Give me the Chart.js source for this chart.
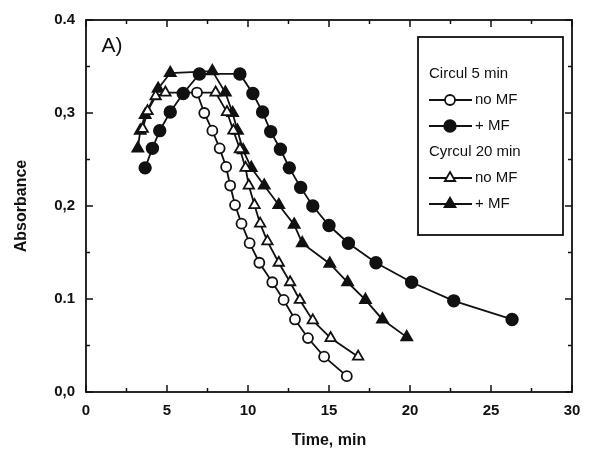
<!DOCTYPE html>
<html>
<head>
<meta charset="utf-8">
<script src="https://cdn.jsdelivr.net/npm/chart.js@4/dist/chart.umd.min.js"></script>
<style>
  html, body { margin: 0; padding: 0; background: #fff; }
  #wrap { width: 605px; height: 460px; }
</style>
</head>
<body>
<div id="wrap"><canvas id="chart" width="605" height="460"></canvas></div>
<script>
// Circul 5 min, no MF (open circles)
const c5NoX = [6.85, 7.3, 7.8, 8.25, 8.65, 8.9, 9.2, 9.6, 10.1, 10.7, 11.5, 12.2, 12.9, 13.7, 14.7, 16.1];
const c5NoY = [0.322, 0.300, 0.281, 0.262, 0.242, 0.222, 0.201, 0.181, 0.160, 0.139, 0.118, 0.099, 0.078, 0.058, 0.038, 0.017];

// Circul 5 min, + MF (filled circles)
const c5MfX = [3.65, 4.1, 4.55, 5.2, 6.0, 7.0, 9.5, 10.3, 10.9, 11.4, 12.0, 12.55, 13.25, 14.0, 15.0, 16.2, 17.9, 20.1, 22.7, 26.3];
const c5MfY = [0.241, 0.262, 0.281, 0.301, 0.321, 0.342, 0.342, 0.321, 0.301, 0.280, 0.261, 0.241, 0.220, 0.200, 0.179, 0.160, 0.139, 0.118, 0.098, 0.078];

// Cyrcul 20 min, no MF (open triangles)
const c20NoX = [3.5, 3.8, 4.3, 4.9, 8.0, 8.7, 9.1, 9.5, 9.85, 10.05, 10.4, 10.75, 11.2, 11.9, 12.6, 13.2, 14.0, 15.1, 16.8];
const c20NoY = [0.283, 0.302, 0.318, 0.322, 0.322, 0.301, 0.281, 0.261, 0.241, 0.222, 0.201, 0.181, 0.162, 0.139, 0.118, 0.099, 0.077, 0.058, 0.038];

// Cyrcul 20 min, + MF (filled triangles)
const c20MfX = [3.2, 3.35, 3.65, 4.45, 5.2, 7.8, 8.6, 9.05, 9.35, 9.7, 10.2, 11.0, 11.9, 12.85, 13.35, 15.05, 16.15, 17.25, 18.3, 19.8];
const c20MfY = [0.262, 0.281, 0.298, 0.326, 0.343, 0.345, 0.322, 0.300, 0.281, 0.260, 0.241, 0.222, 0.201, 0.180, 0.160, 0.138, 0.118, 0.099, 0.078, 0.059];

const xTicks = [0, 5, 10, 15, 20, 25, 30];
const yTicks = [0, 0.1, 0.2, 0.3, 0.4];
const yTickLabels = ['0,0', '0.1', '0,2', '0,3', '0.4'];

const FONT = '"Liberation Sans", Arial, sans-serif';

function pts(xs, ys) {
    return xs.map((x, i) => ({ x: x, y: ys[i] }));
}

function series(label, xs, ys, style, filled, radius) {
    return {
        label: label,
        data: pts(xs, ys),
        showLine: true,
        borderColor: '#111',
        borderWidth: 1.8,
        tension: 0,
        pointStyle: style,
        pointRadius: radius,
        pointBorderWidth: 1.8,
        pointBorderColor: '#111',
        pointBackgroundColor: filled ? '#111' : '#fff'
    };
}

// frame, inward ticks, "A)" label and the boxed legend
const decorations = {
    id: 'decorations',
    afterDraw(chart) {
        const ctx = chart.ctx;
        const a = chart.chartArea;
        const xs = chart.scales.x, ys = chart.scales.y;
        ctx.save();
        ctx.strokeStyle = '#111';
        ctx.lineWidth = 1.8;
        ctx.strokeRect(a.left, a.top, a.right - a.left, a.bottom - a.top);

        ctx.lineWidth = 1.5;
        for (let v = 0; v <= 30.001; v += 2.5) {
            const p = xs.getPixelForValue(v);
            const len = (Math.round(v * 10) % 50 === 0) ? 7 : 4;
            ctx.beginPath();
            ctx.moveTo(p, a.bottom); ctx.lineTo(p, a.bottom - len);
            ctx.moveTo(p, a.top); ctx.lineTo(p, a.top + len);
            ctx.stroke();
        }
        for (let v = 0; v <= 0.4001; v += 0.05) {
            const p = ys.getPixelForValue(v);
            const len = (Math.round(v * 100) % 10 === 0) ? 7 : 4;
            ctx.beginPath();
            ctx.moveTo(a.left, p); ctx.lineTo(a.left + len, p);
            ctx.moveTo(a.right, p); ctx.lineTo(a.right - len, p);
            ctx.stroke();
        }

        ctx.fillStyle = '#111';
        ctx.font = '21px ' + FONT;
        ctx.textBaseline = 'middle';
        ctx.textAlign = 'left';
        ctx.fillText('A)', xs.getPixelForValue(0.95), ys.getPixelForValue(0.372));

        // legend
        const lx = 418, ly = 37, lw = 145, lh = 198;
        ctx.lineWidth = 1.8;
        ctx.strokeRect(lx, ly, lw, lh);
        ctx.font = '15px ' + FONT;
        const rows = [
            { text: 'Circul 5 min' },
            { text: 'no MF', ds: 0 },
            { text: '+ MF', ds: 1 },
            { text: 'Cyrcul 20 min' },
            { text: 'no MF', ds: 2 },
            { text: '+ MF', ds: 3 }
        ];
        rows.forEach((r, i) => {
            const y = ly + 37 + i * 26;
            if (r.ds === undefined) {
                ctx.fillText(r.text, lx + 11, y);
                return;
            }
            const d = chart.data.datasets[r.ds];
            ctx.beginPath();
            ctx.moveTo(lx + 11, y); ctx.lineTo(lx + 54, y);
            ctx.stroke();
            ctx.fillStyle = d.pointBackgroundColor;
            ctx.strokeStyle = '#111';
            Chart.helpers.drawPoint(ctx, {
                pointStyle: d.pointStyle, radius: d.pointRadius, borderWidth: 1.8
            }, lx + 32, y);
            ctx.fillStyle = '#111';
            ctx.fillText(r.text, lx + 57, y);
        });
        ctx.restore();
    }
};

new Chart(document.getElementById('chart'), {
    type: 'scatter',
    data: {
        datasets: [
            series('Circul 5 min no MF', c5NoX, c5NoY, 'circle', false, 5),
            series('Circul 5 min + MF', c5MfX, c5MfY, 'circle', true, 5.8),
            series('Cyrcul 20 min no MF', c20NoX, c20NoY, 'triangle', false, 6),
            series('Cyrcul 20 min + MF', c20MfX, c20MfY, 'triangle', true, 6.3)
        ]
    },
    options: {
        responsive: false,
        animation: false,
        layout: { padding: { top: 19, right: 33, left: 0, bottom: 0 } },
        plugins: { legend: { display: false }, tooltip: { enabled: false } },
        scales: {
            x: {
                type: 'linear', min: 0, max: 30,
                afterBuildTicks: s => { s.ticks = xTicks.map(v => ({ value: v })); },
                afterFit: s => { s.height = 68; },
                grid: { display: false, drawTicks: false },
                border: { display: false },
                ticks: { color: '#111', padding: 10, font: { family: FONT, size: 15, weight: 'bold' } },
                title: { display: true, text: 'Time, min', color: '#111', padding: { top: 2, bottom: 10 }, font: { family: FONT, size: 16, weight: 'bold' } }
            },
            y: {
                type: 'linear', min: 0, max: 0.4,
                afterBuildTicks: s => { s.ticks = yTicks.map(v => ({ value: v })); },
                afterFit: s => { s.width = 86; },
                grid: { display: false, drawTicks: false },
                border: { display: false },
                ticks: {
                    color: '#111', padding: 11, font: { family: FONT, size: 15, weight: 'bold' },
                    callback: (v, i) => yTickLabels[i]
                },
                title: { display: true, text: 'Absorbance', color: '#111', padding: { top: 12, bottom: 2 }, font: { family: FONT, size: 16, weight: 'bold' } }
            }
        }
    },
    plugins: [decorations]
});
</script>
</body>
</html>
